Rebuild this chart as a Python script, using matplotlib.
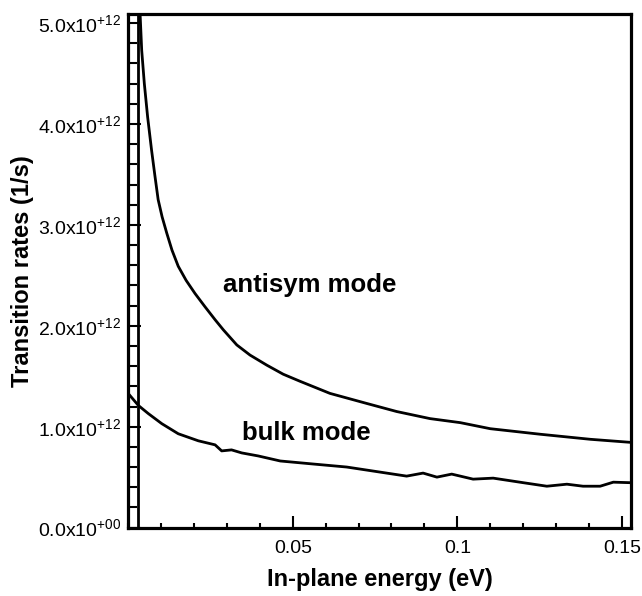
import numpy as np
import matplotlib
matplotlib.use('Agg')
import matplotlib.pyplot as plt
from matplotlib.ticker import FixedLocator, MultipleLocator, FuncFormatter

matplotlib.rcParams['font.family'] = ['Liberation Sans', 'DejaVu Sans']
matplotlib.rcParams['mathtext.fontset'] = 'custom'
matplotlib.rcParams['mathtext.rm'] = 'Liberation Sans'
matplotlib.rcParams['mathtext.default'] = 'regular'

# transition rates vs in-plane energy, rates in units of 1e12 1/s
antisym_e = [0.0036, 0.0041, 0.0049, 0.0059, 0.0071, 0.0081, 0.0091, 0.0103,
             0.0117, 0.0133, 0.0152, 0.0176, 0.0203, 0.0233, 0.0264, 0.0289,
             0.0330, 0.0370, 0.0421, 0.0471, 0.0522, 0.0613, 0.0725, 0.0816,
             0.0917, 0.1009, 0.1100, 0.1252, 0.1404, 0.1525]
antisym_rate = [5.10, 4.73, 4.40, 4.07, 3.74, 3.49, 3.25, 3.08,
                2.92, 2.75, 2.59, 2.45, 2.32, 2.19, 2.06, 1.96,
                1.81, 1.71, 1.61, 1.52, 1.45, 1.33, 1.23, 1.15,
                1.08, 1.04, 0.98, 0.925, 0.875, 0.845]

bulk_e = [0.0005, 0.0031, 0.0061, 0.0102, 0.0152, 0.0213, 0.0264, 0.0284,
          0.0314, 0.0345, 0.0395, 0.0462, 0.0562, 0.0664, 0.0765, 0.0846,
          0.0896, 0.0938, 0.0983, 0.1048, 0.1109, 0.1200, 0.1272, 0.1333,
          0.1382, 0.1434, 0.1474, 0.1525]
bulk_rate = [1.31, 1.21, 1.13, 1.03, 0.93, 0.86, 0.82, 0.76,
             0.77, 0.74, 0.71, 0.66, 0.63, 0.60, 0.55, 0.51,
             0.54, 0.50, 0.53, 0.48, 0.49, 0.445, 0.41, 0.43,
             0.41, 0.41, 0.45, 0.445]

y_ticks = [0, 1, 2, 3, 4, 5]
y_exps = ['+00', '+12', '+12', '+12', '+12', '+12']
x_ticks = [0.05, 0.1, 0.15]
x_labels = ['0.05', '0.1', '0.15']

fig = plt.figure(figsize=(6.42, 5.96), dpi=100)
ax = fig.add_axes([0.1997, 0.1148, 0.7833, 0.8617])

scale = 1e12
ax.plot(antisym_e, np.array(antisym_rate) * scale, color='k', lw=2.0,
        solid_joinstyle='round')
ax.plot(bulk_e, np.array(bulk_rate) * scale, color='k', lw=2.0,
        solid_joinstyle='round')
ax.axvline(0.003, color='k', lw=2.0)

ax.set_xlim(0, 0.1528)
ax.set_ylim(0, 5.09e12)

for s in ax.spines.values():
    s.set_linewidth(2.3)

ax.yaxis.set_major_locator(FixedLocator([v * scale for v in y_ticks]))
ax.yaxis.set_minor_locator(MultipleLocator(0.2e12))
ylabs = {v * scale: '%.1fx10$^{%s}$' % (v, e) for v, e in zip(y_ticks, y_exps)}
ax.yaxis.set_major_formatter(FuncFormatter(lambda v, p: ylabs.get(v, '')))

ax.xaxis.set_major_locator(FixedLocator(x_ticks))
ax.xaxis.set_minor_locator(MultipleLocator(0.01))
ax.set_xticklabels(x_labels)

ax.tick_params(axis='both', which='both', direction='in', top=False, right=False,
               labelsize=14, width=1.5)
ax.tick_params(axis='y', which='major', length=9.5, pad=5)
ax.tick_params(axis='y', which='minor', length=6.5)
ax.tick_params(axis='x', which='major', length=9, pad=9)
ax.tick_params(axis='x', which='minor', length=3.8)

ax.set_xlabel('In-plane energy (eV)', fontsize=17, fontweight='bold', labelpad=8)
ax.set_ylabel('Transition rates (1/s)', fontsize=17, fontweight='bold', labelpad=3)

ax.text(0.055, 2.40e12, 'antisym mode', fontsize=18.5, fontweight='bold',
        ha='center', va='center')
ax.text(0.054, 0.94e12, 'bulk mode', fontsize=18.5, fontweight='bold',
        ha='center', va='center')

fig.savefig('out.png', dpi=100)
